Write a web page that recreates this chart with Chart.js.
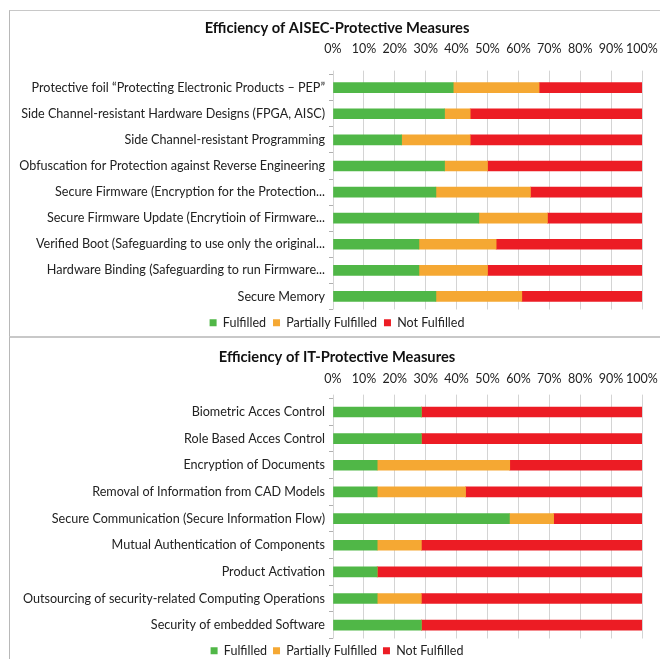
<!DOCTYPE html>
<html>
<head>
<meta charset="utf-8">
<script src="https://cdn.jsdelivr.net/npm/chart.js@4"></script>
<style>
  html, body { margin: 0; background: #fff; overflow: hidden; }
  .panel { position: absolute; left: 9px; width: 651px; border-left: 1px solid #b8b8b8; box-sizing: border-box; }
  #p1 { top: 10px; height: 326px; border-top: 1px solid #c8c8c8; }
  #p2 { top: 336px; height: 331px; border-top: 2px solid #c8c8c8; }
  canvas { display: block; }
</style>
</head>
<body>
<div class="panel" id="p1"><canvas id="aisec" width="672" height="328"></canvas></div>
<div class="panel" id="p2"><canvas id="it" width="672" height="329"></canvas></div>
<script>
var seriesNames = ['Fulfilled', 'Partially Fulfilled', 'Not Fulfilled'];
var seriesColors = ['#50b747', '#f5a833', '#ec1c24'];

var aisecLabels = [
    'Protective foil \u201cProtecting Electronic Products \u2013 PEP\u201d',
    'Side Channel-resistant Hardware Designs (FPGA, AISC)',
    'Side Channel-resistant Programming',
    'Obfuscation for Protection against Reverse Engineering',
    'Secure Firmware (Encryption for the Protection...',
    'Secure Firmware Update (Encrytioin of Firmware...',
    'Verified Boot (Safeguarding to use only the original...',
    'Hardware Binding (Safeguarding to run Firmware...',
    'Secure Memory'
];
var aisecFulfilled = [38.9, 36.1, 22.2, 36.1, 33.3, 47.2, 27.8, 27.8, 33.3];
var aisecPartial   = [27.8, 8.3, 22.2, 13.9, 30.6, 22.2, 25.0, 22.2, 27.8];
var aisecNot       = [33.3, 55.6, 55.6, 50.0, 36.1, 30.6, 47.2, 50.0, 38.9];

var itLabels = [
    'Biometric Acces Control',
    'Role Based Acces Control',
    'Encryption of Documents',
    'Removal of Information from CAD Models',
    'Secure Communication (Secure Information Flow)',
    'Mutual Authentication of Components',
    'Product Activation',
    'Outsourcing of security-related Computing Operations',
    'Security of embedded Software'
];
var itFulfilled = [28.6, 28.6, 14.3, 14.3, 57.1, 14.3, 14.3, 14.3, 28.6];
var itPartial   = [0, 0, 42.9, 28.6, 14.3, 14.3, 0, 14.3, 0];
var itNot       = [71.4, 71.4, 42.9, 57.1, 28.6, 71.4, 85.7, 71.4, 71.4];

var fontFamily = 'Lato, "Open Sans", sans-serif';

// fit = per-panel spacing so the plot areas line up with the original
function makeChart(id, title, labels, values, fit) {
    var ctx = document.getElementById(id).getContext('2d');
    return new Chart(ctx, {
        type: 'bar',
        data: {
            labels: labels,
            datasets: values.map(function (v, i) {
                return {
                    label: seriesNames[i],
                    data: v,
                    backgroundColor: seriesColors[i],
                    borderWidth: 0,
                    barThickness: 10
                };
            })
        },
        options: {
            indexAxis: 'y',
            responsive: false,
            animation: false,
            // canvas runs past the window edge so title and legend centre like the original
            layout: { padding: { left: 0, right: 18, top: 0, bottom: 0 } },
            plugins: {
                title: {
                    display: true,
                    text: title,
                    color: '#111',
                    font: { family: fontFamily, size: 14.7, weight: 'bold' },
                    padding: { top: fit.titleTop, bottom: 5 }
                },
                legend: {
                    position: 'bottom',
                    labels: {
                        boxWidth: 7,
                        boxHeight: 7,
                        padding: fit.legendPad,
                        color: '#222',
                        font: { family: fontFamily, size: 12.5 }
                    }
                },
                tooltip: { enabled: false }
            },
            scales: {
                x: {
                    position: 'top',
                    stacked: true,
                    min: 0,
                    max: 100,
                    afterFit: function (scale) {
                        scale.height = fit.xHeight;
                        scale.paddingLeft = 0;
                        scale.paddingRight = 40;
                    },
                    ticks: {
                        stepSize: 10,
                        maxRotation: 0,
                        autoSkip: false,
                        padding: fit.tickPad,
                        color: '#222',
                        font: { family: fontFamily, size: 12.5 },
                        callback: function (v) { return v + '%'; }
                    },
                    grid: { color: '#d4d4d4', tickLength: 4 },
                    border: { display: false }
                },
                y: {
                    stacked: true,
                    afterFit: function (scale) { scale.width = 323; },
                    ticks: {
                        padding: 4,
                        color: '#222',
                        font: { family: fontFamily, size: 12.6 }
                    },
                    grid: { drawOnChartArea: false, tickLength: 4, color: '#b0b0b0' },
                    border: { display: false }
                }
            }
        }
    });
}

makeChart('aisec', 'Efficiency of AISEC-Protective Measures', aisecLabels,
    [aisecFulfilled, aisecPartial, aisecNot],
    { titleTop: 8, xHeight: 33, tickPad: 14, legendPad: 7 });
makeChart('it', 'Efficiency of IT-Protective Measures', itLabels,
    [itFulfilled, itPartial, itNot],
    { titleTop: 10, xHeight: 28, tickPad: 8, legendPad: 6 });
</script>
</body>
</html>
